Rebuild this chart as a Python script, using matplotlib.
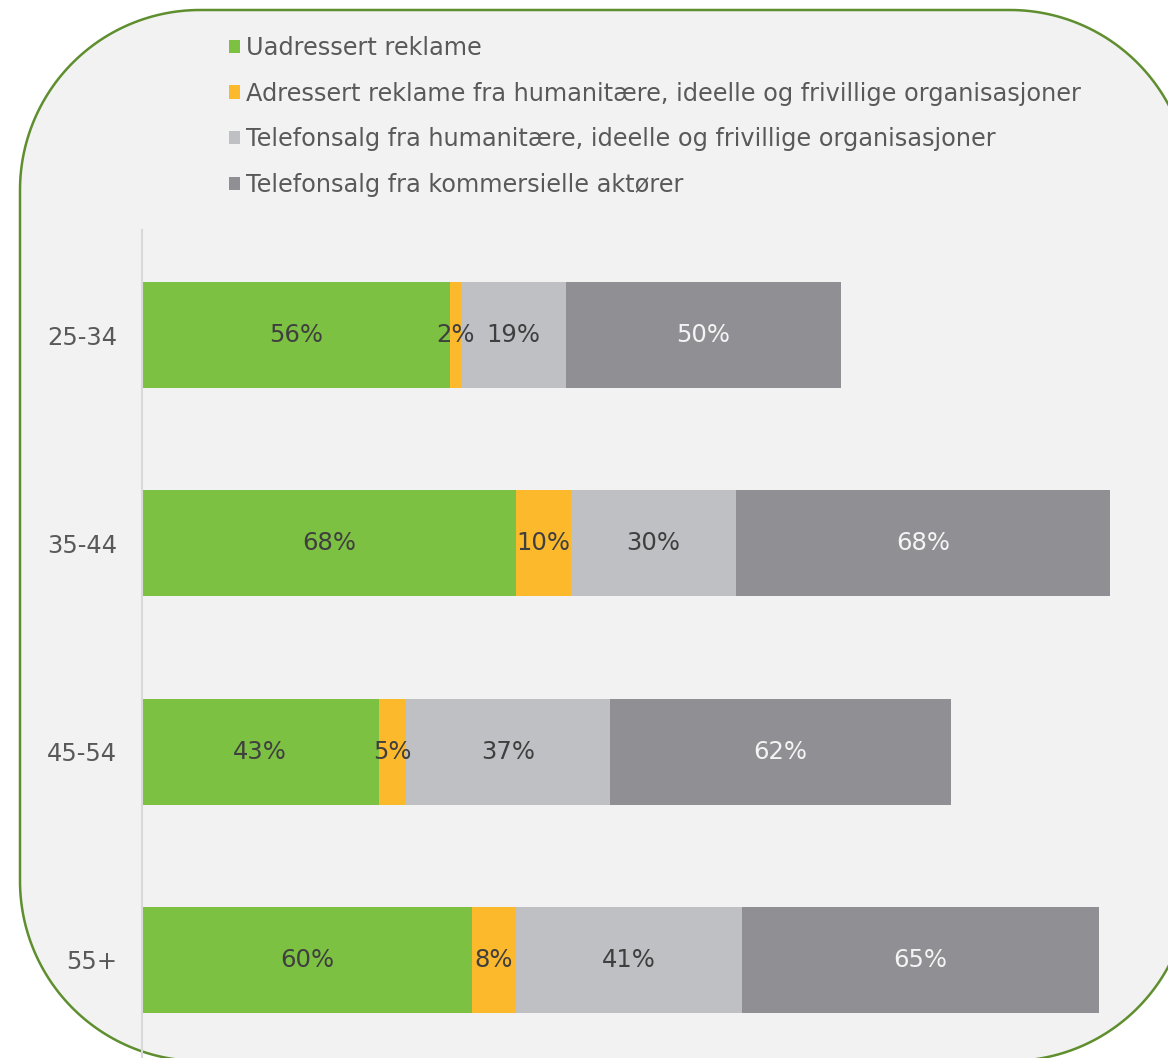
import matplotlib
matplotlib.use("Agg")
import matplotlib.pyplot as plt
from matplotlib.patches import PathPatch, Patch
from matplotlib.path import Path
import numpy as np

categories = ["25-34", "35-44", "45-54", "55+"]
series_names = [
    "Uadressert reklame",
    "Adressert reklame fra humanitære, ideelle og frivillige organisasjoner",
    "Telefonsalg fra humanitære, ideelle og frivillige organisasjoner",
    "Telefonsalg fra kommersielle aktører",
]
uadressert = [56, 68, 43, 60]
adressert = [2, 10, 5, 8]
tlf_ideell = [19, 30, 37, 41]
tlf_kommersiell = [50, 68, 62, 65]
series_values = [uadressert, adressert, tlf_ideell, tlf_kommersiell]

colors = ["#7DC142", "#FDB92C", "#BFC0C4", "#908F94"]
label_colors = ["#3F3F3F", "#3F3F3F", "#3F3F3F", "#F4F4F4"]

W, H = 1168, 1058
fig = plt.figure(figsize=(W / 100, H / 100), dpi=100, facecolor="white")

# background rounded panel (pixel coords, y downward)
bg = fig.add_axes([0, 0, 1, 1], zorder=0)
bg.set_xlim(0, W)
bg.set_ylim(H, 0)
bg.axis("off")
x0, x1, y0, y1, r = 20, 1190, 10, 1061, 180
def arc(cx, cy, a0, a1):
    t = np.radians(np.linspace(a0, a1, 60))
    return np.column_stack([cx + r * np.cos(t), cy + r * np.sin(t)])
pts = np.vstack([
    arc(x0 + r, y0 + r, 180, 270),
    arc(x1 - r, y0 + r, 270, 360),
    arc(x1 - r, y1 - r, 0, 90),
    arc(x0 + r, y1 - r, 90, 180),
])
pts = np.vstack([pts, pts[:1]])
panel = PathPatch(Path(pts, closed=True), facecolor="#F2F2F2",
                  edgecolor="#5E8E2E", linewidth=1.8, clip_on=False)
bg.add_patch(panel)

# main axes in pixel positions
left, right = 142, 1168
top, bottom = 230, 1058
ax = fig.add_axes([left / W, (H - bottom) / H, (right - left) / W, (bottom - top) / H], zorder=1)
ax.patch.set_alpha(0)
px_per_unit = 5.5
ax.set_xlim(0, (right - left) / px_per_unit)
spacing = 208.3
ax.set_ylim(3 + (bottom - 960) / spacing, -(335 - top) / spacing)

y = np.arange(len(categories))
cum = np.zeros(len(categories))
for vals, col, lc in zip(series_values, colors, label_colors):
    vals = np.array(vals, dtype=float)
    ax.barh(y, vals, left=cum, height=0.51, color=col, edgecolor="none")
    for yi, (c, v) in enumerate(zip(cum, vals)):
        ax.text(c + v / 2, yi, f"{int(v)}%", ha="center", va="center",
                fontsize=17.5, color=lc)
    cum += vals

ax.set_yticks(y)
ax.set_yticklabels(categories, fontsize=17.5, color="#595959")
ax.tick_params(axis="y", length=0, pad=18)
ax.set_xticks([])
for s in ["top", "right", "bottom"]:
    ax.spines[s].set_visible(False)
ax.spines["left"].set_color("#D9D9D9")
ax.spines["left"].set_linewidth(1.5)

handles = [Patch(facecolor=c, edgecolor="none") for c in colors]
fig.legend(handles, series_names, loc="upper left",
           bbox_to_anchor=(229 / W, 1 - 36 / H), frameon=False,
           fontsize=17.3, labelcolor="#595959",
           handlelength=0.47, handleheight=0.47, handletextpad=0.25,
           labelspacing=0.9, borderaxespad=0, borderpad=0)

fig.savefig("out.png", dpi=100, facecolor="white")
